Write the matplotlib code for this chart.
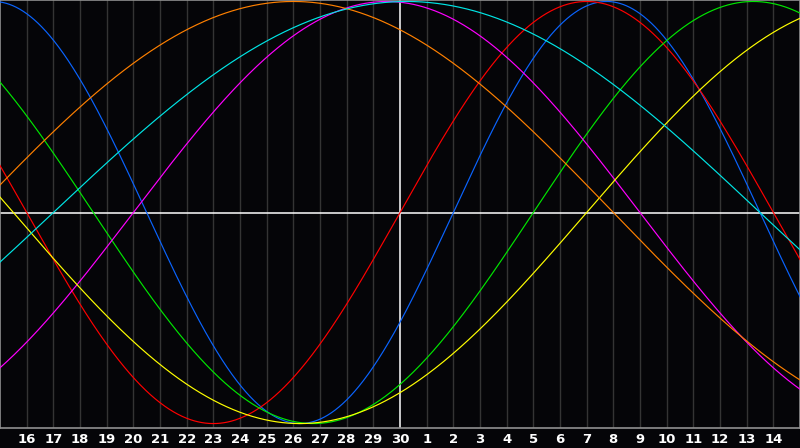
import numpy as np
import matplotlib
matplotlib.use('Agg')
import matplotlib.pyplot as plt

# days lived on the centre day of the chart
days_lived = 24976

# cycle lengths (days) and their colours
periods = [23, 28, 33, 38, 43, 48, 53]
colors = ['#0a64ff', '#ff0000', '#00e600', '#ff00ff', '#ffff00', '#ff8000', '#00e5e5']

# day-of-month labels, left to right (centre day = 30)
day_labels = [16, 17, 18, 19, 20, 21, 22, 23, 24, 25, 26, 27, 28, 29, 30,
              1, 2, 3, 4, 5, 6, 7, 8, 9, 10, 11, 12, 13, 14]
day_offsets = list(range(-14, 15))


def run_main():
    fig = plt.figure(figsize=(8, 4.48), dpi=100, facecolor='#050508')
    ax = fig.add_axes([0, 1 - 428 / 448, 1, 428 / 448])
    ax.set_facecolor('#050508')

    ax.set_xlim(-15, 15)
    ax.set_ylim(-1.021, 1.007)

    # light vertical grid, one line per day
    for d in day_offsets:
        if d != 0:
            ax.axvline(d, color='#343434', lw=1, zorder=1)

    # crosshair through the centre day
    ax.axvline(0, color='white', lw=1.1, zorder=2)
    ax.axhline(0, color='white', lw=1.1, zorder=2)

    t = np.linspace(-15, 15, 1500)
    for p, c in zip(periods, colors):
        ax.plot(t, np.sin(2 * np.pi * (days_lived + t) / p), color=c,
                lw=0.85, zorder=3)

    for side in ['top', 'left', 'right', 'bottom']:
        ax.spines[side].set_color('#909090')
        ax.spines[side].set_linewidth(1.2)

    ax.set_yticks([])
    ax.set_xticks(day_offsets)
    ax.set_xticklabels([str(d) for d in day_labels], color='white',
                       fontsize=9.5, fontweight='bold', family='DejaVu Sans')
    ax.tick_params(axis='x', length=0, pad=3.5)

    fig.savefig('out.png', dpi=100, facecolor=fig.get_facecolor())


if __name__ == "__main__":
    run_main()
